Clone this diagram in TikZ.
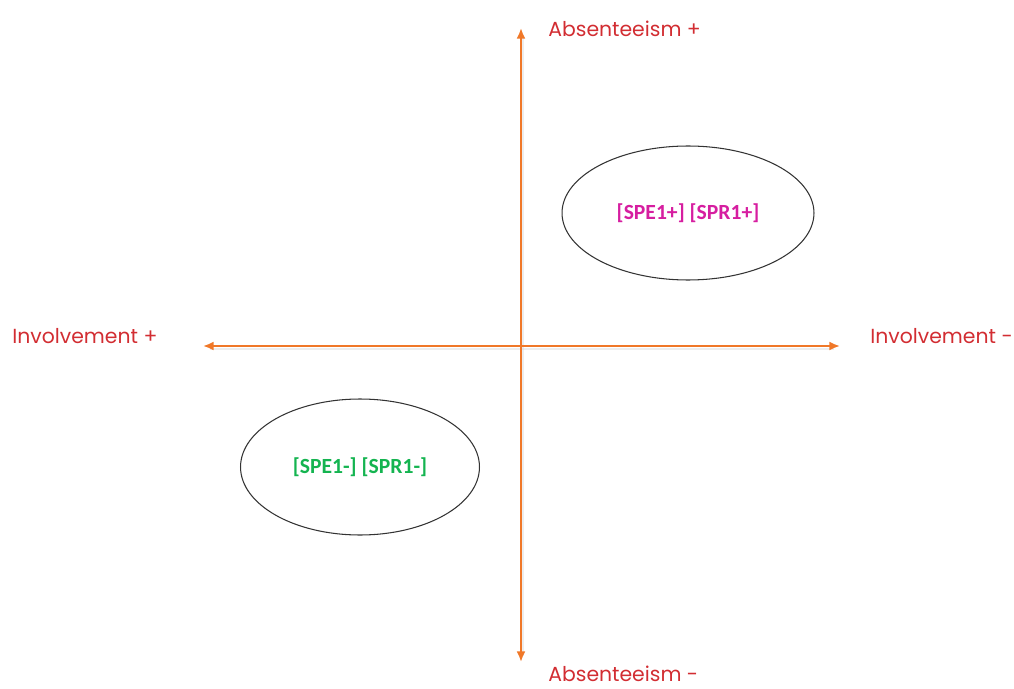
\documentclass[tikz,border=0pt]{standalone}
\usepackage{fontspec}
\setmainfont{Poppins}
\newfontfamily\calibri{Carlito}
\usetikzlibrary{arrows.meta,shapes.geometric}
\definecolor{axisorange}{RGB}{240,120,40}
\definecolor{labelred}{RGB}{210,45,50}
\definecolor{plusmagenta}{RGB}{214,30,160}
\definecolor{minusgreen}{RGB}{20,180,80}
\tikzset{
  axis/.style={line width=1.1pt, color=axisorange, {Latex[length=6pt,width=5pt]}-{Latex[length=6pt,width=5pt]}},
  axisshadow/.style={line width=1.6pt, color=black!20, opacity=0.35},
  axislabel/.style={color=labelred, font=\fontsize{11.6}{13}\selectfont, inner sep=0pt},
  group/.style={draw=black!80, line width=0.6pt, ellipse, inner sep=0pt, font=\calibri\bfseries\fontsize{12.3}{14}\selectfont}
}
\begin{document}
\begin{tikzpicture}[x=0.02cm, y=-0.02cm]
	%%%%% FRAME %%%%%
	\useasboundingbox (0, 0) rectangle (1014, 689);
	
	%%%%% AXES %%%%%
	\coordinate (top) at (521, 28);
	\coordinate (bottom) at (521, 662);
	\coordinate (left) at (203, 346);
	\coordinate (right) at (840, 346);
	
	\draw[axisshadow] (523, 36) -- (523, 656);
	\draw[axisshadow] (210, 349) -- (834, 349);
	\draw[axis] (bottom) -- (top);
	\draw[axis] (left) -- (right);
	
	\node[axislabel, anchor=west] (absplus) at (548, 29) {Absenteeism +};
	\node[axislabel, anchor=west] (absminus) at (548, 674) {Absenteeism -};
	\node[axislabel, anchor=west] (invplus) at (12, 336) {Involvement +};
	\node[axislabel, anchor=west] (invminus) at (870, 336) {Involvement -};
	
	%%%%% GROUPS %%%%%
	\node[group, minimum width=5.04cm, minimum height=2.68cm, text=plusmagenta] (plusgroup) at (688, 213) {[SPE1+] [SPR1+]};
	\node[group, minimum width=4.78cm, minimum height=2.72cm, text=minusgreen] (minusgroup) at (360, 467) {[SPE1-] [SPR1-]};
	
\end{tikzpicture}
\end{document}
